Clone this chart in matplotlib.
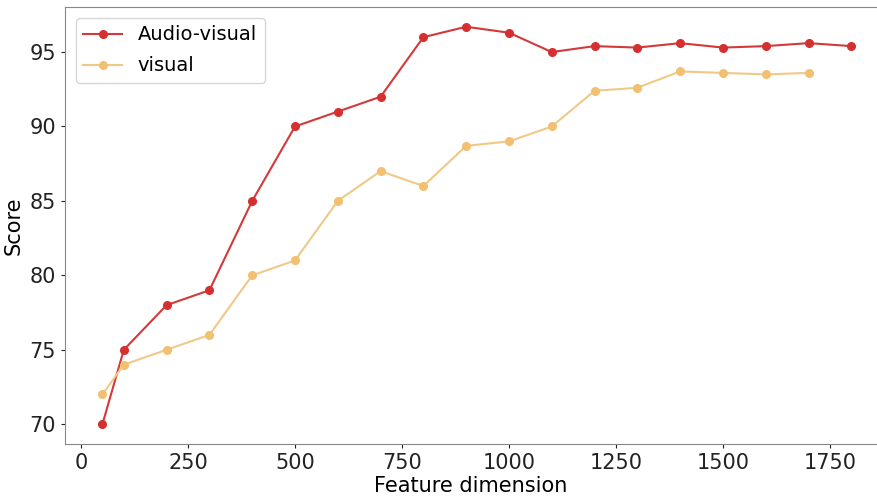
import matplotlib
matplotlib.use("Agg")
import matplotlib.pyplot as plt

dims_av = [50, 100, 200, 300, 400, 500, 600, 700, 800, 900, 1000, 1100, 1200, 1300, 1400, 1500, 1600, 1700, 1800]
score_av = [70, 75, 78, 79, 85, 90, 91, 92, 96, 96.7, 96.3, 95.0, 95.4, 95.3, 95.6, 95.3, 95.4, 95.6, 95.4]

dims_v = [50, 100, 200, 300, 400, 500, 600, 700, 800, 900, 1000, 1100, 1200, 1300, 1400, 1500, 1600, 1700]
score_v = [72, 74, 75, 76, 80, 81, 85, 87, 86, 88.7, 89.0, 90.0, 92.4, 92.6, 93.7, 93.6, 93.5, 93.6]

fig = plt.figure(figsize=(8.77, 4.97), dpi=100)
ax = fig.add_axes([0.0741, 0.1066, 0.9259, 0.8794])

ax.plot(dims_av, score_av, color="#d23a3a", marker="o", markersize=5.5,
        markerfacecolor="#d62f2f", markeredgecolor="#d62f2f", linewidth=1.5, label="Audio-visual")
ax.plot(dims_v, score_v, color="#f0c987", marker="o", markersize=5.5,
        markerfacecolor="#f2c070", markeredgecolor="#f2c070", linewidth=1.5, label="visual")

ax.set_xlim(-37.5, 1860)
ax.set_ylim(68.67, 98.03)
ax.set_xticks([0, 250, 500, 750, 1000, 1250, 1500, 1750])
ax.set_yticks([70, 75, 80, 85, 90, 95])
ax.tick_params(labelsize=15, colors="#222222", length=3)

for side in ["left", "bottom", "top"]:
    ax.spines[side].set_color("#888888")
ax.spines["right"].set_visible(False)

ax.set_xlabel("Feature dimension", fontsize=15, labelpad=2)
ax.set_ylabel("Score", fontsize=15, labelpad=4)

ax.legend(loc="upper left", fontsize=14, handlelength=2.0, borderaxespad=0.55,
          labelspacing=0.62)

fig.savefig("out.png", dpi=100)
